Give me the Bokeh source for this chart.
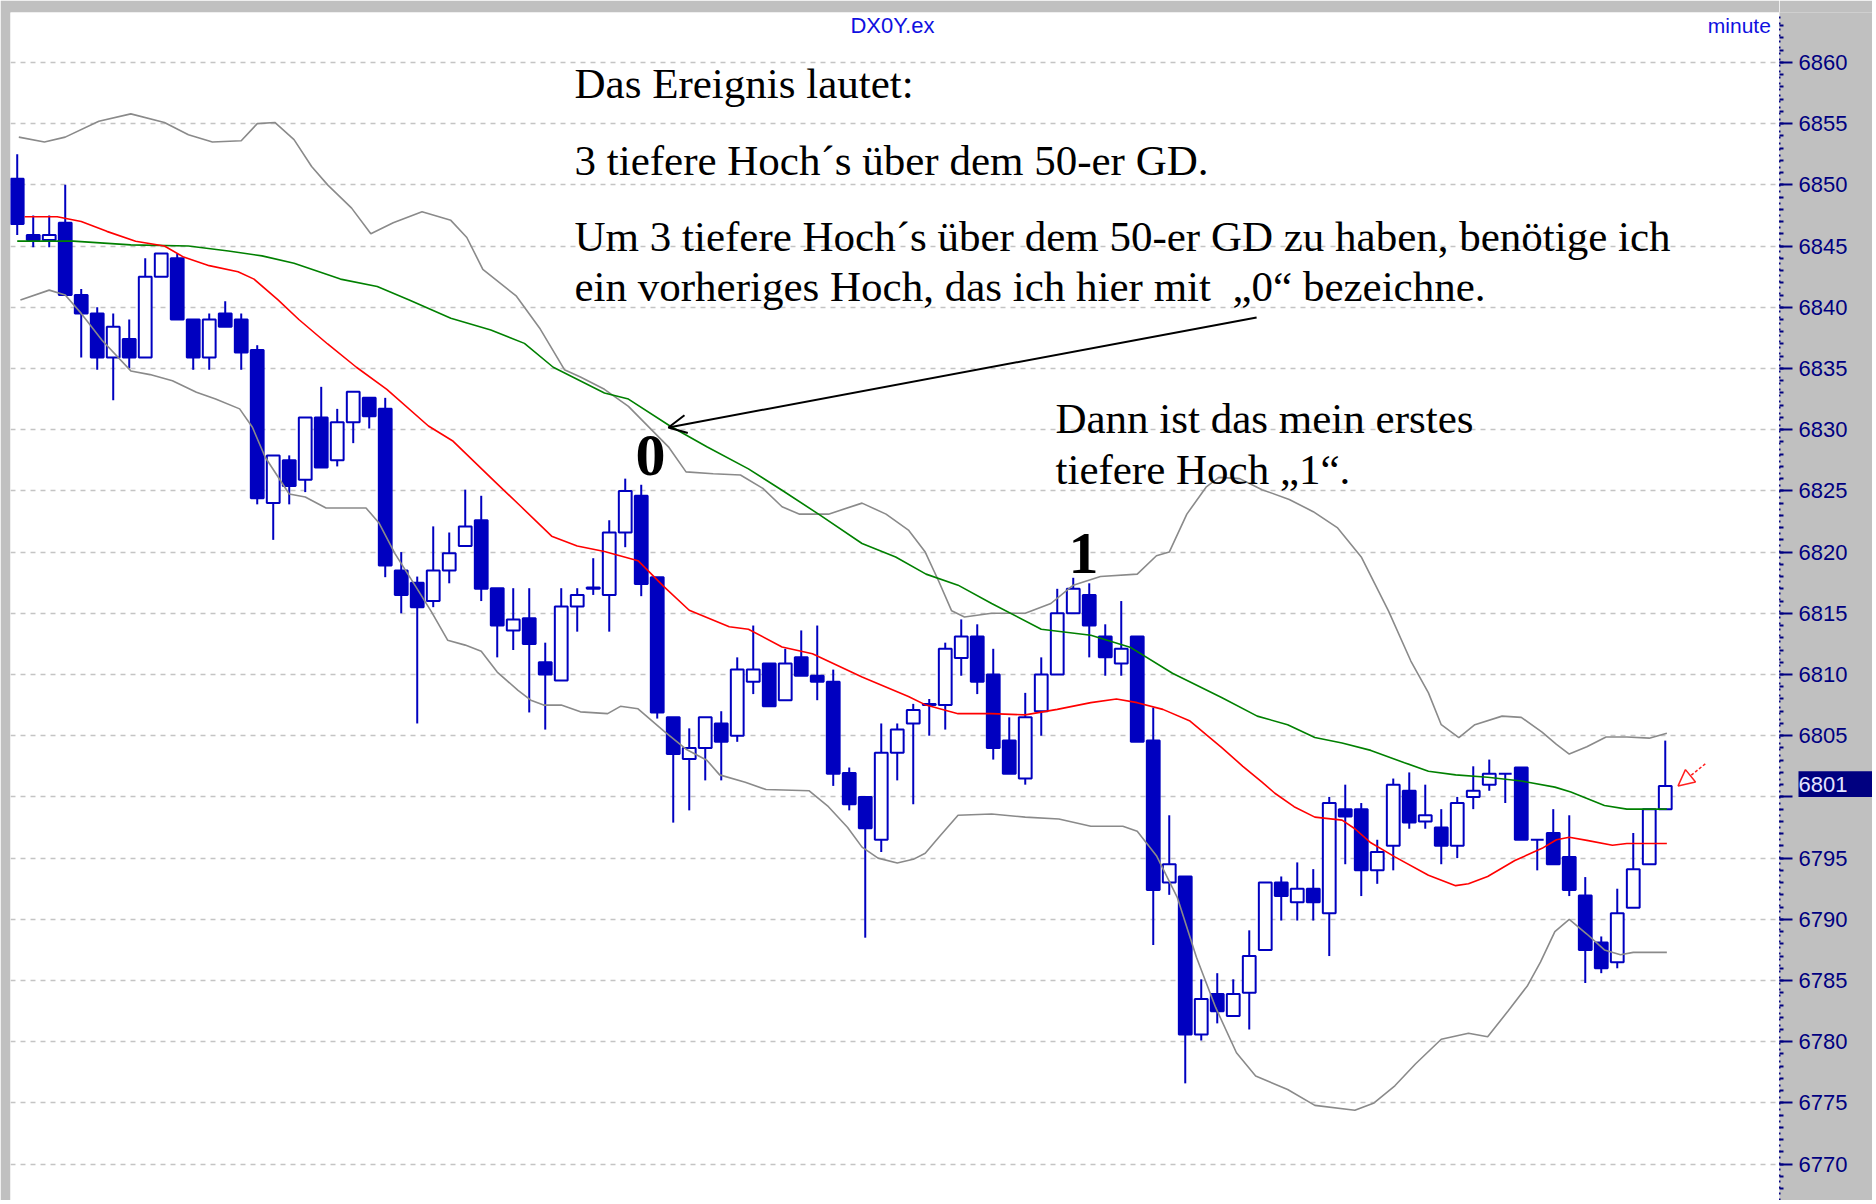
from bokeh.plotting import figure
from bokeh.layouts import row
from bokeh.models import (ColumnDataSource, FixedTicker, Range1d, Label, Arrow,
                          OpenHead, NormalHead, BoxAnnotation, LinearAxis)
from bokeh.embed import file_html
from bokeh.resources import INLINE

# ---------------- data ----------------
opens = [6850.5, 6845.9, 6845.5, 6846.9, 6841.0, 6839.5, 6835.9, 6837.4, 6835.9, 6842.5,
         6844.0, 6839.0, 6835.9, 6839.5, 6839.0, 6836.5, 6824.0, 6827.5, 6825.9, 6831.0,
         6827.5, 6830.6, 6832.6, 6831.7, 6818.5, 6817.5, 6816.0, 6818.5, 6820.5, 6822.6,
         6817.05, 6813.6, 6814.6, 6811.0, 6809.5, 6815.55, 6817.0, 6816.5, 6821.6, 6824.6,
         6817.95, 6806.5, 6803.1, 6804.0, 6806.0, 6805.0, 6809.4, 6810.9, 6807.9, 6811.4,
         6809.9, 6809.4, 6801.95, 6800.0, 6796.5, 6803.6, 6806.0, 6807.5, 6807.5, 6811.35,
         6813.1, 6810.0, 6804.6, 6801.5, 6807.0, 6810.0, 6815.0, 6816.5, 6813.1, 6810.9,
         6813.1, 6804.6, 6793.0, 6793.5, 6780.6, 6783.9, 6782.1, 6784.0, 6787.5, 6793.0,
         6791.4, 6792.5, 6790.5, 6799.0, 6799.0, 6794.0, 6796.0, 6800.5, 6798.0, 6797.5,
         6796.0, 6800.0, 6801.0, 6801.9, 6802.4, 6796.5, 6797.05, 6795.1, 6791.95, 6788.1,
         6786.5, 6790.95, 6794.5, 6799.0]
highs = [6852.5, 6847.5, 6847.5, 6850.0, 6841.5, 6840.0, 6839.5, 6839.0, 6844.0, 6844.4,
         6844.4, 6839.0, 6839.5, 6840.5, 6839.5, 6836.9, 6827.9, 6827.9, 6831.0, 6833.5,
         6831.7, 6833.1, 6832.6, 6832.6, 6820.0, 6818.0, 6822.1, 6821.6, 6825.1, 6824.6,
         6817.05, 6817.05, 6817.05, 6812.6, 6817.05, 6817.05, 6819.5, 6822.6, 6826.0, 6825.5,
         6817.95, 6806.5, 6805.6, 6806.5, 6807.0, 6811.4, 6814.0, 6810.9, 6812.1, 6813.6,
         6814.0, 6810.4, 6802.4, 6800.0, 6806.0, 6806.0, 6807.6, 6808.0, 6812.6, 6814.5,
         6814.1, 6812.1, 6806.5, 6808.5, 6811.4, 6817.0, 6817.9, 6817.45, 6814.1, 6816.0,
         6813.1, 6807.3, 6798.5, 6793.5, 6785.1, 6785.6, 6785.1, 6789.1, 6793.0, 6793.5,
         6794.65, 6794.1, 6800.0, 6801.0, 6799.5, 6796.5, 6801.5, 6802.0, 6801.0, 6799.0,
         6800.0, 6802.5, 6803.05, 6801.9, 6802.4, 6796.5, 6799.0, 6798.5, 6793.45, 6788.6,
         6792.5, 6797.05, 6799.0, 6804.6]
lows = [6845.9, 6844.9, 6844.9, 6841.0, 6835.9, 6834.9, 6832.4, 6835.0, 6835.9, 6842.5,
        6839.0, 6834.9, 6834.9, 6838.4, 6834.9, 6823.9, 6821.0, 6823.9, 6824.9, 6826.9,
        6827.0, 6828.9, 6830.1, 6817.95, 6815.0, 6806.0, 6815.5, 6817.45, 6820.5, 6816.0,
        6811.4, 6812.0, 6806.9, 6805.5, 6809.5, 6813.5, 6816.5, 6813.5, 6820.4, 6816.4,
        6806.4, 6797.9, 6798.9, 6801.35, 6801.35, 6804.5, 6808.4, 6807.4, 6807.9, 6809.9,
        6807.9, 6800.9, 6798.9, 6788.5, 6795.5, 6801.35, 6799.4, 6805.0, 6805.5, 6809.9,
        6808.4, 6803.05, 6801.9, 6801.0, 6805.0, 6810.0, 6815.0, 6811.4, 6809.9, 6809.9,
        6804.5, 6787.9, 6792.0, 6776.6, 6780.1, 6781.5, 6782.1, 6781.0, 6787.5, 6789.9,
        6789.9, 6789.9, 6787.0, 6794.5, 6791.9, 6792.9, 6794.0, 6797.4, 6797.4, 6794.5,
        6795.0, 6799.0, 6800.5, 6799.5, 6796.5, 6794.0, 6794.5, 6791.9, 6784.8, 6785.6,
        6786.0, 6790.95, 6794.5, 6799.0]
closes = [6846.8, 6845.5, 6845.9, 6841.0, 6839.5, 6835.9, 6838.4, 6835.9, 6842.5, 6844.4,
          6839.0, 6835.9, 6839.0, 6838.4, 6836.3, 6824.4, 6827.9, 6825.4, 6831.0, 6826.9,
          6830.6, 6833.1, 6831.1, 6818.9, 6816.5, 6815.5, 6818.5, 6819.9, 6822.1, 6817.0,
          6814.0, 6814.5, 6812.5, 6810.0, 6815.55, 6816.5, 6817.1, 6821.6, 6825.0, 6817.4,
          6806.9, 6803.5, 6804.0, 6806.5, 6804.5, 6810.4, 6810.4, 6807.4, 6810.9, 6809.9,
          6809.4, 6801.9, 6799.4, 6797.45, 6803.6, 6805.5, 6807.1, 6807.6, 6812.1, 6813.1,
          6809.4, 6804.0, 6801.9, 6806.5, 6810.0, 6815.0, 6817.0, 6814.0, 6811.4, 6812.1,
          6804.5, 6792.4, 6794.5, 6780.6, 6783.5, 6782.5, 6783.9, 6787.0, 6793.0, 6791.9,
          6792.5, 6791.4, 6799.5, 6798.4, 6794.0, 6795.5, 6801.0, 6797.9, 6798.5, 6796.0,
          6799.5, 6800.5, 6801.9, 6801.9, 6796.5, 6796.5, 6794.5, 6792.4, 6787.5, 6786.0,
          6790.5, 6794.1, 6799.0, 6800.9]

# moving average (red) - bar position, value
red_x = [0.46, 2.5, 4.0, 5.6, 7.4, 9.2, 10.4, 12.0, 13.8, 14.8, 16.3, 17.6, 19.4, 21.2, 23.1,
         25.7, 27.2, 29.9, 31.5, 33.4, 35.0, 36.7, 38.8, 40.4, 42.0, 44.5, 45.7, 47.8, 49.7,
         52.8, 55.7, 56.8, 58.8, 60.9, 63.0, 65.0, 67.1, 68.7, 70.0, 71.6, 73.3, 75.3, 76.6,
         77.8, 78.6, 79.8, 81.1, 82.8, 83.6, 84.6, 86.1, 88.2, 89.9, 90.7, 91.9, 93.6, 95.3,
         96.2, 97.0, 98.1, 99.7, 100.6, 103.1]
red_y = [6847.4, 6847.4, 6847.0, 6846.2, 6845.4, 6845.0, 6844.1, 6843.4, 6842.9, 6842.3, 6840.6,
         6839.0, 6837.0, 6835.1, 6833.3, 6830.3, 6829.1, 6825.7, 6823.7, 6821.3, 6820.5, 6820.05,
         6819.3, 6817.2, 6815.25, 6813.9, 6813.7, 6812.25, 6811.7, 6809.8, 6808.2, 6807.5,
         6806.8, 6806.8, 6806.7, 6807.15, 6807.7, 6808.0, 6807.7, 6807.15, 6806.2, 6804.0,
         6802.5, 6801.2, 6800.3, 6799.2, 6798.35, 6798.1, 6797.4, 6796.25, 6795.1, 6793.6,
         6792.75, 6792.9, 6793.5, 6794.8, 6795.8, 6796.5, 6796.7, 6796.45, 6796.05, 6796.2,
         6796.2]

# moving average (green)
green_x = [0.0, 3.5, 7.1, 10.7, 13.2, 15.3, 17.3, 20.2, 22.5, 24.5, 27.1, 29.6, 31.7, 33.5,
           36.7, 38.2, 40.8, 43.1, 45.7, 47.8, 50.2, 52.8, 54.9, 56.8, 58.8, 60.9, 64.0, 67.1,
           69.6, 72.2, 75.3, 77.5, 79.4, 81.1, 82.8, 84.6, 86.7, 88.2, 89.9, 91.9, 94.0, 96.1,
           97.1, 99.2, 100.6, 103.1]
green_y = [6845.4, 6845.4, 6845.1, 6845.0, 6844.6, 6844.2, 6843.6, 6842.3, 6841.7, 6840.6,
           6839.1, 6838.15, 6837.05, 6835.1, 6833.0, 6832.5, 6830.3, 6828.6, 6826.8, 6825.05,
           6823.0, 6820.7, 6819.6, 6818.2, 6817.3, 6815.8, 6813.7, 6813.2, 6812.2, 6810.1,
           6808.1, 6806.6, 6805.9, 6804.85, 6804.4, 6803.8, 6802.8, 6802.1, 6801.8, 6801.6,
           6801.3, 6800.8, 6800.4, 6799.3, 6799.0, 6799.0]

# upper band (gray)
upper_x = [0.1, 1.7, 3.0, 5.1, 7.1, 9.2, 10.7, 12.2, 14.0, 15.0, 16.1, 17.3, 18.4, 19.4, 20.9,
           22.1, 23.5, 25.3, 27.1, 28.1, 29.1, 31.2, 32.7, 34.2, 35.2, 36.7, 38.2, 40.7, 41.8,
           43.5, 45.2, 46.6, 47.8, 48.9, 50.7, 52.8, 54.3, 55.7, 56.75, 57.6, 58.4, 59.2, 60.9,
           63.0, 64.6, 66.0, 67.7, 70.0, 71.2, 72.0, 73.1, 74.3, 75.1, 76.4, 77.8, 79.5, 81.0,
           82.5, 84.0, 85.7, 87.1, 88.2, 89.0, 90.1, 91.1, 92.8, 94.0, 95.3, 96.2, 97.0, 98.1,
           99.3, 100.6, 102.0, 103.1]
upper_y = [6853.9, 6853.5, 6853.9, 6855.2, 6855.8, 6855.1, 6854.1, 6853.5, 6853.6, 6855.0,
           6855.1, 6853.7, 6851.5, 6850.0, 6848.1, 6846.0, 6846.9, 6847.8, 6847.1, 6845.7,
           6843.1, 6840.9, 6838.2, 6834.9, 6834.3, 6833.3, 6831.9, 6828.6, 6826.55, 6826.4,
           6826.3, 6825.2, 6823.7, 6823.1, 6823.1, 6824.0, 6823.1, 6821.8, 6820.0, 6817.6,
           6815.2, 6814.7, 6815.0, 6815.0, 6815.8, 6817.3, 6818.0, 6818.2, 6819.7, 6820.0,
           6823.1, 6825.3, 6826.1, 6826.0, 6825.1, 6824.3, 6823.3, 6822.0, 6819.6, 6815.2,
           6811.1, 6808.5, 6805.9, 6804.85, 6805.9, 6806.6, 6806.5, 6805.3, 6804.3, 6803.5,
           6804.1, 6804.9, 6804.9, 6804.8, 6805.2]

# lower band (gray)
lower_x = [0.2, 2.0, 3.0, 4.0, 5.3, 7.1, 8.3, 9.7, 11.2, 12.4, 13.9, 14.7, 15.5, 17.0, 18.0,
           19.3, 21.8, 22.6, 23.6, 24.9, 25.9, 26.9, 28.0, 29.0, 30.0, 31.3, 32.1, 32.9, 34.0,
           35.2, 36.9, 37.7, 38.8, 40.4, 41.8, 43.1, 43.9, 45.5, 46.8, 49.5, 50.7, 51.9, 52.8,
           53.8, 55.0, 56.0, 56.75, 57.6, 58.8, 60.9, 63.0, 65.1, 67.1, 69.1, 70.0, 71.2, 72.5,
           73.7, 74.9, 76.2, 77.4, 79.4, 81.1, 83.6, 84.8, 86.1, 87.4, 89.0, 90.7, 91.9, 93.2,
           94.4, 95.2, 96.1, 97.0, 98.1, 99.2, 100.2, 101.0, 103.1]
lower_y = [6840.6, 6841.4, 6841.0, 6839.5, 6837.3, 6834.8, 6834.5, 6834.0, 6833.05, 6832.5,
           6831.7, 6830.2, 6827.75, 6824.75, 6824.5, 6823.6, 6823.6, 6822.4, 6819.9, 6817.2,
           6815.1, 6812.8, 6812.4, 6811.9, 6810.2, 6808.7, 6807.9, 6807.5, 6807.5, 6806.95,
           6806.8, 6807.4, 6807.2, 6805.4, 6803.9, 6803.0, 6801.8, 6801.2, 6800.6, 6800.5,
           6799.2, 6797.5, 6795.9, 6795.0, 6794.6, 6794.9, 6795.4, 6796.7, 6798.5, 6798.6,
           6798.35, 6798.2, 6797.6, 6797.6, 6797.2, 6795.2, 6791.8, 6786.9, 6782.8, 6779.1,
           6777.2, 6776.1, 6774.8, 6774.4, 6775.0, 6776.4, 6778.2, 6780.2, 6780.7, 6780.4,
           6782.55, 6784.6, 6786.5, 6789.0, 6790.0, 6788.8, 6787.5, 6787.1, 6787.3, 6787.3]

price_ticks = list(range(6770, 6861, 5))
minor_ticks = list(range(6767, 6864, 1))
last_price = 6801
hidden_tick = 6800          # tick label covered by the last-price marker
symbol = "DX0Y.ex"
period = "minute"

# ---------------- styling constants ----------------
BLUE = "#0000c0"
NAVY = "#000080"
PANEL = "#c0c0c0"
y_rng = Range1d(6767.03, 6864.08)

# ---------------- chart figure ----------------
idx = list(range(len(opens)))
rising = [c >= o for o, c in zip(opens, closes)]
src = ColumnDataSource(dict(
    x=idx, open=opens, high=highs, low=lows, close=closes,
    top=[max(o, c) for o, c in zip(opens, closes)],
    bottom=[min(o, c) for o, c in zip(opens, closes)],
    fill=["white" if r else BLUE for r in rising],
))

p = figure(width=1779, height=1200,
           x_range=Range1d(-0.42, 110.14), y_range=y_rng,
           output_backend="svg", toolbar_location=None,
           x_axis_location=None, y_axis_location=None,
           min_border_left=10, min_border_right=0, min_border_top=12, min_border_bottom=0,
           background_fill_color="white", border_fill_color=PANEL)
p.outline_line_color = None
p.xgrid.visible = False
p.ygrid.ticker = FixedTicker(ticks=price_ticks)
p.ygrid.grid_line_color = "#c4c4c4"
p.ygrid.grid_line_dash = "5 5"
p.ygrid.grid_line_width = 1.5

# candles
p.segment(x0="x", y0="low", x1="x", y1="high", source=src, line_color=BLUE, line_width=2)
p.vbar(x="x", width=0.8, top="top", bottom="bottom", source=src,
       fill_color="fill", line_color=BLUE, line_width=2)

# indicator lines
p.line(upper_x, upper_y, line_color="#8a8a8a", line_width=1.6)
p.line(lower_x, lower_y, line_color="#8a8a8a", line_width=1.6)
p.line(green_x, green_y, line_color="#008000", line_width=1.6)
p.line(red_x, red_y, line_color="#ff0000", line_width=1.6)

# header texts
p.add_layout(Label(x=54.7, y=6863.0, text=symbol, text_align="center", text_baseline="middle",
                   text_font="Liberation Sans", text_font_size="22px", text_color="#1010e0"))
p.add_layout(Label(x=109.6, y=6863.0, text=period, text_align="right", text_baseline="middle",
                   text_font="Liberation Sans", text_font_size="21px", text_color="#1010e0"))

# annotation texts
serif = "Liberation Serif"
for (tx, ty, t) in [
    (34.83, 6858.24, "Das Ereignis lautet:"),
    (34.83, 6852.0, "3 tiefere Hoch´s über dem 50-er GD."),
    (34.83, 6845.75, "Um 3 tiefere Hoch´s über dem 50-er GD zu haben, benötige ich"),
    (34.83, 6841.68, "ein vorheriges Hoch, das ich hier mit \u00a0„0“ bezeichne."),
    (64.89, 6830.93, "Dann ist das mein erstes"),
    (64.89, 6826.75, "tiefere Hoch „1“."),
]:
    p.add_layout(Label(x=tx, y=ty, text=t, text_font=serif, text_font_size="43px",
                       text_color="black", text_baseline="alphabetic"))

p.add_layout(Label(x=39.58, y=6827.9, text="0", text_align="center", text_font=serif,
                   text_font_size="60px", text_font_style="bold", text_color="black",
                   text_baseline="alphabetic"))
p.add_layout(Label(x=66.64, y=6819.9, text="1", text_align="center", text_font=serif,
                   text_font_size="60px", text_font_style="bold", text_color="black",
                   text_baseline="alphabetic"))

# arrows
p.add_layout(Arrow(end=OpenHead(size=18, line_width=2, line_color="black"),
                   x_start=77.46, y_start=6839.17, x_end=40.7, y_end=6830.18,
                   line_width=2, line_color="black"))
p.add_layout(Arrow(end=NormalHead(size=16, fill_color=None, line_color="#ff2020", line_width=1.5),
                   x_start=105.5, y_start=6802.7, x_end=103.8, y_end=6800.9,
                   line_width=1.5, line_color="#ff2020", line_dash="3 2"))

# ---------------- price axis panel ----------------
q = figure(width=93, height=1200, x_range=Range1d(0, 93), y_range=y_rng,
           output_backend="svg", toolbar_location=None,
           x_axis_location=None, y_axis_location=None,
           min_border_left=0, min_border_right=0, min_border_top=12, min_border_bottom=0,
           background_fill_color=PANEL, border_fill_color=PANEL)
q.outline_line_color = None
q.xgrid.visible = False
q.ygrid.visible = False

ax = LinearAxis(ticker=FixedTicker(ticks=price_ticks, minor_ticks=minor_ticks))
ax.major_label_overrides = {hidden_tick: ""}
ax.axis_line_color = NAVY
ax.axis_line_width = 2
ax.axis_line_dash = "2 4"
ax.major_tick_line_color = NAVY
ax.major_tick_line_width = 2
ax.major_tick_out = 0
ax.major_tick_in = 13
ax.minor_tick_line_color = NAVY
ax.minor_tick_line_width = 2
ax.minor_tick_out = 0
ax.minor_tick_in = 4
ax.major_label_text_font = "Liberation Sans"
ax.major_label_text_font_size = "22px"
ax.major_label_text_color = NAVY
ax.major_label_standoff = -68
q.add_layout(ax, "left")

# last price marker on the axis
q.add_layout(BoxAnnotation(left=19, right=93, bottom=6800.0, top=6802.1,
                           fill_color=NAVY, fill_alpha=1.0, line_color=None))
q.add_layout(Label(x=19, y=6801.05, text=str(last_price), text_align="left",
                   text_baseline="middle", text_font="Liberation Sans", text_font_size="22px",
                   text_color="#e4e4ff"))

layout = row(p, q)
open("out.html", "w").write(file_html(layout, INLINE))
